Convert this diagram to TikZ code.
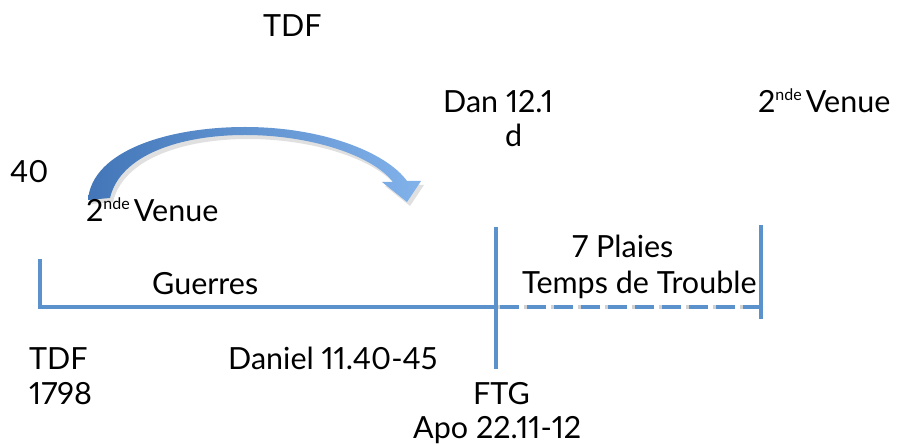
\documentclass[tikz,border=0pt]{standalone}
\usepackage{fontspec}
\setmainfont{Lato}[Numbers=Proportional]
\usetikzlibrary{calc}
\definecolor{lineblue}{RGB}{92,146,204}
\definecolor{arrowdark}{RGB}{66,118,184}
\definecolor{arrowlight}{RGB}{130,178,234}
\newcommand{\ndesup}{\raisebox{12pt}{\fontsize{16}{16}\selectfont nde}\hspace{4pt}}
\begin{document}
\begin{tikzpicture}[x=1pt,y=-1pt,
  txt/.style={inner sep=0pt,anchor=base west,font=\fontsize{30.5}{34}\selectfont},
  tl/.style={draw=lineblue,line width=4pt},
  tlshadow/.style={draw=black!18,line width=4pt},
  tldash/.style={tl,dash pattern=on 19pt off 8pt,dash phase=0pt}]
\useasboundingbox (0,0) rectangle (897,446);
% coordinates of the timeline
\coordinate (lt) at (40,259);
\coordinate (lb) at (40,307);
\coordinate (mj) at (497,307);
\coordinate (mt) at (496,227);
\coordinate (mb) at (496,369);
\coordinate (rt) at (761,225);
\coordinate (rb) at (761,319);
\coordinate (re) at (761,307);
% shadows
\begin{scope}[shift={(2,3)}]
\draw[tlshadow] (lt) -- (lb) -- (mj);
\draw[tlshadow] (mt) -- (mb);
\draw[tlshadow] (rt) -- (rb);
\draw[tlshadow,dash pattern=on 19pt off 8pt] (mj) -- (re);
\end{scope}
% timeline
\draw[tl] (lt) -- (lb) -- (mj);
\draw[tldash] ($(mj)+(3,0)$) -- (re);
\draw[tl] (mt) -- (mb);
\draw[tl] (rt) -- (rb);
% curved arrow shadow
\fill[black!20,opacity=0.6,shift={(3,4)}]
  (88,200) .. controls (92,150) and (170,127) .. (245,127)
  .. controls (322,127) and (386,152) .. (407,181)
  -- (421,181) -- (407,202) -- (382,182) -- (393,182)
  .. controls (372,155) and (310,135) .. (245,135)
  .. controls (180,135) and (120,155) .. (110,198) -- cycle;
% curved arrow
\shade[left color=arrowdark,right color=arrowlight]
  (88,200) .. controls (92,150) and (170,127) .. (245,127)
  .. controls (322,127) and (386,152) .. (407,181)
  -- (421,181) -- (407,202) -- (382,182) -- (393,182)
  .. controls (372,155) and (310,135) .. (245,135)
  .. controls (180,135) and (120,155) .. (110,198) -- cycle;
% texts
\node[txt] (tdftop) at (263,37) {TDF};
\node[txt] (dan) at (443,113) {Dan 12.1};
\node[txt] (d) at (505,147) {d};
\node[txt] (venueR) at (758,113) {2\ndesup Venue};
\node[txt] (forty) at (10,183) {40};
\node[txt] (venueL) at (86,222) {2\ndesup Venue};
\node[txt] (plaies) at (572,258) {7 Plaies};
\node[txt] (guerres) at (152,295) {Guerres};
\node[txt] (temps) at (522,294) {Temps de Trouble};
\node[txt] (tdf) at (29,369) {TDF};
\node[txt] (daniel) at (228,369) {Daniel 11.40-45};
\node[txt] (year) at (29,404) {1798};
\node[txt] (ftg) at (473,404) {FTG};
\node[txt] (apo) at (413,438) {Apo 22.11-12};
\end{tikzpicture}
\end{document}
